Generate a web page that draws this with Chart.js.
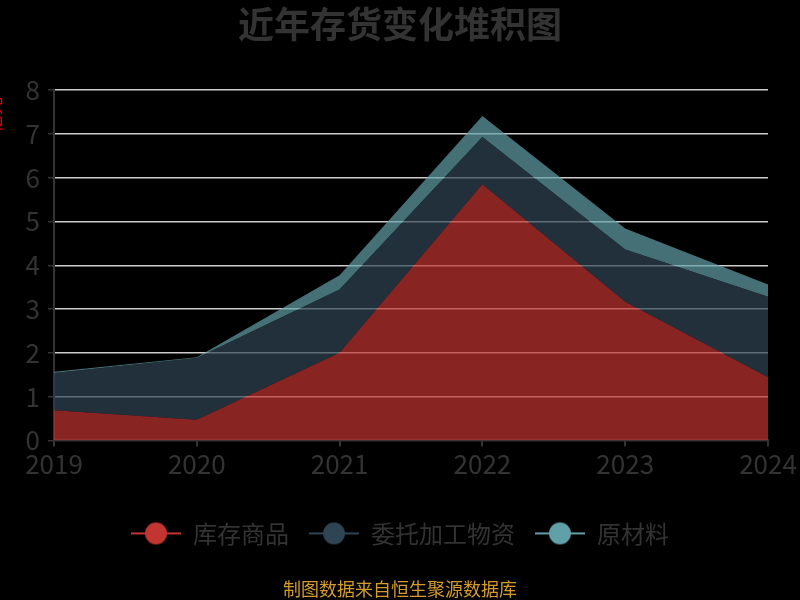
<!DOCTYPE html>
<html>
<head>
<meta charset="utf-8">
<script src="https://cdn.jsdelivr.net/npm/chart.js@4/dist/chart.umd.min.js"></script>
<style>
  html, body { margin: 0; padding: 0; background: #000; }
  #wrap { width: 800px; height: 600px; }
</style>
</head>
<body>
<div id="wrap"><canvas id="stack-chart"></canvas></div>
<script>
// data (亿元)
var years = ["2019", "2020", "2021", "2022", "2023", "2024"];
var kucunShangpin = [0.69, 0.47, 2.00, 5.85, 3.17, 1.44];
var weituoJiagong = [0.85, 1.41, 1.45, 1.08, 1.19, 1.84];
var yuanCailiao = [0.03, 0.02, 0.32, 0.48, 0.48, 0.28];
var seriesNames = ["库存商品", "委托加工物资", "原材料"];
var yTicks = [0, 1, 2, 3, 4, 5, 6, 7, 8];

var palette = ["194,53,49", "47,69,84", "97,160,168"];
var FONT = "'Noto Sans CJK SC', 'Noto Sans', sans-serif";

// legend marker: short line with a dot on it
function legendMark(rgb) {
	var c = document.createElement("canvas");
	c.width = 50;
	c.height = 24;
	var g = c.getContext("2d");
	g.strokeStyle = "rgb(" + rgb + ")";
	g.lineWidth = 2;
	g.beginPath();
	g.moveTo(0, 12);
	g.lineTo(50, 12);
	g.stroke();
	g.fillStyle = "rgb(" + rgb + ")";
	g.beginPath();
	g.arc(25, 12, 11, 0, Math.PI * 2);
	g.fill();
	return c;
}

function area(label, values, i) {
	return {
		label: label,
		data: values,
		fill: i === 0 ? "origin" : "-1",
		backgroundColor: "rgba(" + palette[i] + ",0.7)",
		borderColor: "rgba(" + palette[i] + ",0)",
		borderWidth: 0,
		pointRadius: 0,
		lineTension: 0
	};
}

// clipped red axis name at the very left edge
var axisName = {
	id: "axisName",
	afterDraw: function(chart) {
		var c = chart.ctx;
		c.save();
		c.translate(-6, 115);
		c.rotate(-Math.PI / 2);
		c.fillStyle = "#e00";
		c.font = "18px " + FONT;
		c.textAlign = "center";
		c.textBaseline = "middle";
		c.fillText("亿元", 0, 0);
		c.restore();
	}
};

var chart = new Chart(document.getElementById("stack-chart"), {
	type: "line",
	data: {
		labels: years,
		datasets: [
			area(seriesNames[0], kucunShangpin, 0),
			area(seriesNames[1], weituoJiagong, 1),
			area(seriesNames[2], yuanCailiao, 2)
		]
	},
	options: {
		responsive: true,
		maintainAspectRatio: false,
		animation: false,
		devicePixelRatio: 1,
		layout: { padding: 0 },
		scales: {
			x: {
				offset: false,
				grid: { drawOnChartArea: false, tickColor: "#333", tickLength: 6, lineWidth: 2 },
				border: { color: "#333", width: 2 },
				ticks: { color: "#333", font: { family: FONT, size: 26 }, padding: 2, maxRotation: 0 },
				afterFit: function(s) { s.height = 61; }
			},
			y: {
				stacked: true,
				min: 0,
				max: 8,
				afterBuildTicks: function(s) { s.ticks = yTicks.map(function(v) { return { value: v }; }); },
				grid: {
					color: function(ctx) { return ctx.tick && ctx.tick.value === 0 ? "#333" : "#ccc"; },
					lineWidth: 1.5,
					tickColor: "#333",
					tickLength: 6
				},
				border: { color: "#333", width: 2 },
				ticks: { color: "#333", font: { family: FONT, size: 26 }, padding: 8 },
				afterFit: function(s) { s.width = 54; }
			},
			// empty right margin so the plot ends at the same place as the reference
			yRight: {
				position: "right",
				display: true,
				grid: { display: false, drawTicks: false },
				border: { display: false },
				ticks: { display: false },
				afterFit: function(s) { s.width = 32; }
			}
		},
		plugins: {
			title: {
				display: true,
				text: "近年存货变化堆积图",
				color: "#333",
				font: { family: FONT, size: 36, weight: "bold" },
				padding: { top: 3, bottom: 44 }
			},
			legend: {
				display: true,
				position: "bottom",
				labels: {
					usePointStyle: true,
					pointStyleWidth: 50,
					padding: 20,
					color: "#333",
					font: { family: FONT, size: 24 },
					generateLabels: function(ch) {
						return ch.data.datasets.map(function(ds, i) {
							return {
								text: ds.label,
								fontColor: "#333",
								pointStyle: legendMark(palette[i]),
								datasetIndex: i,
								hidden: false,
								lineWidth: 0
							};
						});
					}
				}
			},
			subtitle: {
				display: true,
				position: "bottom",
				text: "制图数据来自恒生聚源数据库",
				color: "#d39b2c",
				font: { family: FONT, size: 18 },
				padding: { top: 23, bottom: 0 }
			},
			tooltip: { enabled: false }
		}
	},
	plugins: [axisName]
});
</script>
</body>
</html>
